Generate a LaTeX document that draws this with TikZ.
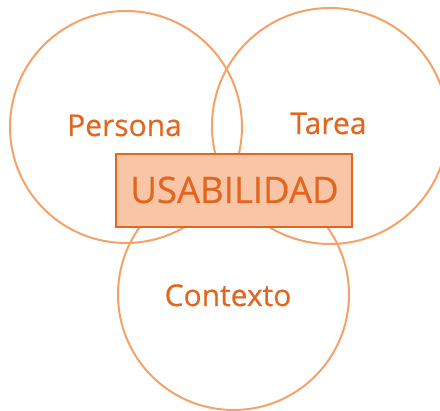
\documentclass[tikz,border=0pt]{standalone}
\usepackage{fontspec}
\setmainfont{Open Sans}
\newfontfamily\lblfont{Open Sans}[UprightFeatures={FakeBold=0.5}]
\definecolor{ringc}{HTML}{F4A26A}
\definecolor{textc}{HTML}{E2661F}
\definecolor{boxfill}{HTML}{F8C6A6}
\tikzset{
  ring/.style={draw=ringc, line width=2pt},
  lbl/.style={text=textc, anchor=base, inner sep=0pt, font=\lblfont\fontsize{30}{30}\selectfont},
  ubox/.style={draw=textc, fill=boxfill, line width=2.2pt},
}
\begin{document}
\begin{tikzpicture}[x=1pt,y=-1pt]
\useasboundingbox (0,0) rectangle (440,411);
\draw[ring] (126,127) circle (116);
\draw[ring] (330,126) circle (118);
\draw[ring] (233.5,294.5) circle (115.5);
\node[ubox, minimum width=236pt, minimum height=73pt, inner sep=0pt] (box) at (234,190.5) {};
\node[lbl, font=\lblfont\fontsize{36.5}{36.5}\selectfont] (usab) at (234.5,203) {USABILIDAD};
\node[lbl] (persona) at (124.5,136) {Persona};
\node[lbl] (tarea) at (328.5,134) {Tarea};
\node[lbl] (contexto) at (228,306) {Contexto};
\end{tikzpicture}
\end{document}
